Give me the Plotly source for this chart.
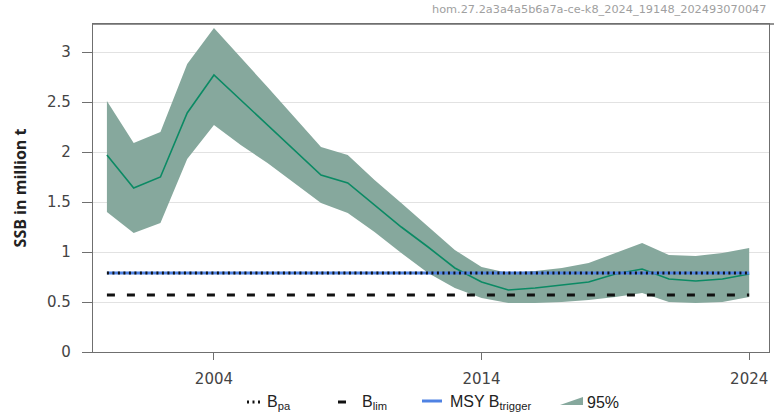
import plotly.graph_objects as go

# Spawning-stock biomass estimates (million tonnes) with 95% confidence bounds
years = list(range(2000, 2025))
ssb = [1.97, 1.64, 1.75, 2.39, 2.77, 2.52, 2.28, 2.02, 1.77, 1.69, 1.47, 1.25, 1.05,
       0.84, 0.70, 0.62, 0.64, 0.67, 0.70, 0.78, 0.83, 0.73, 0.71, 0.73, 0.78]
ssb_high = [2.51, 2.09, 2.20, 2.88, 3.24, 2.95, 2.65, 2.35, 2.05, 1.97, 1.72, 1.49, 1.25,
            1.02, 0.85, 0.79, 0.81, 0.84, 0.89, 0.99, 1.09, 0.97, 0.96, 0.99, 1.04]
ssb_low = [1.40, 1.19, 1.29, 1.93, 2.27, 2.07, 1.89, 1.69, 1.49, 1.39, 1.20, 0.99, 0.79,
           0.64, 0.54, 0.49, 0.49, 0.50, 0.52, 0.55, 0.59, 0.50, 0.49, 0.50, 0.55]

# Reference points
b_pa = 0.79
b_lim = 0.57
msy_btrigger = 0.79

x_ticks = [2004, 2014, 2024]
y_ticks = [0, 0.5, 1, 1.5, 2, 2.5, 3]
y_ticklabels = ["0", "0.5", "1", "1.5", "2", "2.5", "3"]

legend_labels = ["B<sub>pa</sub>", "B<sub>lim</sub>", "MSY B<sub>trigger</sub>", "95%"]
stock_code = "hom.27.2a3a4a5b6a7a-ce-k8_2024_19148_202493070047"

band_color = "#86a89d"
ssb_color = "#0b8a64"
trigger_color = "#4f82e3"
ref_color = "#111111"
bpa_dash = "2px,3.5px"
blim_dash = "8px,12px"

W, H = 774, 417
ML, MR, MT, MB = 93, 5, 24, 65
PW, PH = W - ML - MR, H - MT - MB


def px(x):
    """Horizontal pixel -> paper coordinate."""
    return (x - ML) / PW


def py(y):
    """Vertical pixel (from top) -> paper coordinate."""
    return (H - MB - y) / PH


fig = go.Figure()

# Confidence band
fig.add_trace(go.Scatter(x=years, y=ssb_low, mode="lines", line=dict(width=0, color=band_color),
                         hoverinfo="skip"))
fig.add_trace(go.Scatter(x=years, y=ssb_high, mode="lines", line=dict(width=0, color=band_color),
                         fill="tonexty", fillcolor=band_color, hoverinfo="skip"))

# SSB estimate
fig.add_trace(go.Scatter(x=years, y=ssb, mode="lines", line=dict(color=ssb_color, width=1.6)))

# Reference lines
fig.add_trace(go.Scatter(x=[years[0], years[-1]], y=[msy_btrigger] * 2, mode="lines",
                         line=dict(color=trigger_color, width=3)))
fig.add_trace(go.Scatter(x=[years[0], years[-1]], y=[b_pa] * 2, mode="lines",
                         line=dict(color=ref_color, width=3, dash=bpa_dash)))
fig.add_trace(go.Scatter(x=[years[0], years[-1]], y=[b_lim] * 2, mode="lines",
                         line=dict(color=ref_color, width=3, dash=blim_dash)))

axis_common = dict(showline=True, linecolor="#6f6f6f", linewidth=1.3, mirror=True,
                   ticks="outside", tickcolor="#6f6f6f", zeroline=False,
                   tickfont=dict(family="DejaVu Sans", size=15, color="#444444"))

fig.update_xaxes(range=[1999.48, 2024.74], tickvals=x_ticks, ticklen=7, showgrid=False,
                 ticklabelstandoff=6, **axis_common)
fig.update_yaxes(range=[0, 3.28], tickvals=y_ticks, ticktext=y_ticklabels, ticklen=10,
                 ticklabelstandoff=8,
                 showgrid=True, gridcolor="#e2e2e2", gridwidth=1,
                 title=dict(text="<b>SSB in million t</b>", standoff=16,
                            font=dict(family="Open Sans", size=16, color="#222222")),
                 **axis_common)

# Stock identifier in the header
fig.add_annotation(text=stock_code, xref="paper", yref="paper", x=px(430), y=py(10),
                   xanchor="left", yanchor="middle", showarrow=False,
                   font=dict(family="DejaVu Sans", size=11.3, color="#a0a0a0"))
fig.add_shape(type="line", xref="paper", yref="paper", x0=px(93), x1=px(774), y0=1, y1=1,
              line=dict(color="#6f6f6f", width=1.3))

# Legend row beneath the plot
leg_y = py(402)
leg_font = dict(family="Liberation Sans", size=16, color="#222222")
fig.add_shape(type="line", xref="paper", yref="paper", x0=px(247), x1=px(263), y0=leg_y, y1=leg_y,
              line=dict(color=ref_color, width=3, dash=bpa_dash))
fig.add_shape(type="line", xref="paper", yref="paper", x0=px(338), x1=px(346), y0=leg_y, y1=leg_y,
              line=dict(color=ref_color, width=3))
fig.add_shape(type="line", xref="paper", yref="paper", x0=px(422), x1=px(442), y0=py(401),
              y1=py(401), line=dict(color=trigger_color, width=3))
fig.add_shape(type="path", xref="paper", yref="paper",
              path=f"M {px(560)},{py(405)} L {px(583)},{py(397)} L {px(583)},{py(405)} Z",
              fillcolor=band_color, line=dict(width=0))
for label, lx in zip(legend_labels, [265, 360, 448, 585]):
    fig.add_annotation(text=label, xref="paper", yref="paper", x=px(lx), y=leg_y,
                       xanchor="left", yanchor="middle", showarrow=False, font=leg_font)

fig.update_layout(
    width=W, height=H,
    margin=dict(l=ML, r=MR, t=MT, b=MB),
    paper_bgcolor="white", plot_bgcolor="white",
    showlegend=False,
)

fig.write_html("out.html")
